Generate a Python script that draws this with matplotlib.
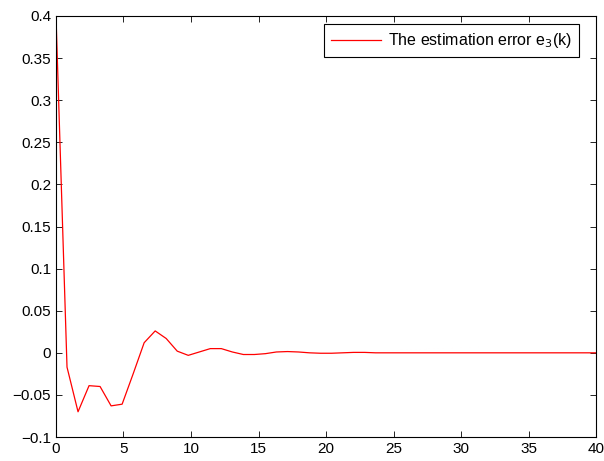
import numpy as np
import matplotlib
matplotlib.use("Agg")
import matplotlib.pyplot as plt

plt.rcParams['font.family'] = ['Liberation Sans', 'DejaVu Sans']

# estimation error e3(k), sampled on 50 points from 0 to 40
k = np.linspace(0, 40, 50)
e3_head = [0.4, -0.017, -0.070, -0.039, -0.040, -0.063, -0.061, -0.025,
           0.012, 0.026, 0.017, 0.002, -0.003, 0.001, 0.005, 0.005,
           0.001, -0.002, -0.002, -0.001, 0.001, 0.0015, 0.001, 0.0,
           -0.0005, -0.0005, 0.0, 0.0005, 0.0005, 0.0]
e3 = np.array(e3_head + [0.0] * (len(k) - len(e3_head)))

xticks = [0, 5, 10, 15, 20, 25, 30, 35, 40]
yticks = [-0.1, -0.05, 0, 0.05, 0.1, 0.15, 0.2, 0.25, 0.3, 0.35, 0.4]
ylabels = ['\u22120.1', '\u22120.05', '0', '0.05', '0.1', '0.15', '0.2',
           '0.25', '0.3', '0.35', '0.4']

fig = plt.figure(figsize=(6.04, 4.61), dpi=100)
ax = fig.add_axes([0.0927, 0.052, 0.8941, 0.9133])

ax.plot(k, e3, color='red', linewidth=0.9, label='The estimation error e$_3$(k)')

ax.set_xlim(0, 40)
ax.set_ylim(-0.1, 0.4)
ax.set_xticks(xticks)
ax.set_yticks(yticks)
ax.set_yticklabels(ylabels)
ax.tick_params(direction='in', top=True, right=True, labelsize=11, length=4, width=0.6)
for s in ax.spines.values():
    s.set_linewidth(0.8)

leg = ax.legend(loc='upper right', bbox_to_anchor=(0.9685, 0.981), borderaxespad=0,
                fontsize=11.5, fancybox=False, framealpha=1, edgecolor='black',
                handlelength=3.1, handletextpad=0.45, borderpad=0.45)
leg.get_frame().set_linewidth(0.8)

fig.savefig('out.png', dpi=100)
